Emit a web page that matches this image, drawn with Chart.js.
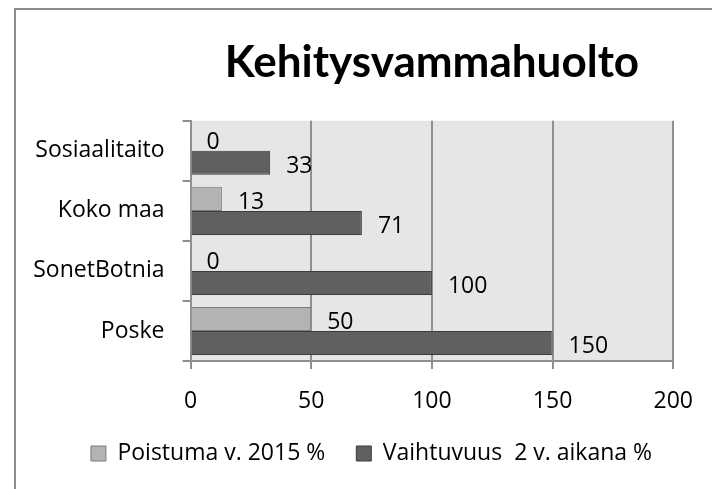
<!DOCTYPE html>
<html>
<head>
<meta charset="utf-8">
<script src="https://cdn.jsdelivr.net/npm/chart.js@4.4.1/dist/chart.umd.min.js"></script>
<style>
  html, body { margin: 0; padding: 0; background: #fff; }
  #wrap { width: 712px; height: 489px; }
</style>
</head>
<body>
<div id="wrap"><canvas id="turnoverChart" width="712" height="489"></canvas></div>
<script>
const categories = ['Sosiaalitaito', 'Koko maa', 'SonetBotnia', 'Poske'];
const seriesNames = ['Poistuma v. 2015 %', 'Vaihtuvuus  2 v. aikana %'];
const poistumaValues = [0, 13, 0, 50];
const vaihtuvuusValues = [33, 71, 100, 150];
const xTickValues = [0, 50, 100, 150, 200];

const labelFont = { family: 'Open Sans', size: 23 };
const gridGray = '#909090';

// Excel-like frame and grey plot background
const frameAndBackground = {
  id: 'frameAndBackground',
  beforeDraw(chart) {
    const { ctx, chartArea } = chart;
    ctx.save();
    ctx.fillStyle = '#e6e6e6';
    ctx.fillRect(chartArea.left, chartArea.top, chartArea.right - chartArea.left, chartArea.bottom - chartArea.top);
    ctx.strokeStyle = '#8c8c8c';
    ctx.lineWidth = 2;
    ctx.beginPath();
    ctx.moveTo(15, 489);
    ctx.lineTo(15, 9);
    ctx.lineTo(712, 9);
    ctx.stroke();
    ctx.restore();
  }
};

// value labels just past the bar ends
const valueLabels = {
  id: 'valueLabels',
  afterDatasetsDraw(chart) {
    const ctx = chart.ctx;
    ctx.save();
    ctx.font = labelFont.size + 'px "' + labelFont.family + '"';
    ctx.fillStyle = '#000';
    ctx.textAlign = 'left';
    ctx.textBaseline = 'alphabetic';
    chart.data.datasets.forEach((ds, i) => {
      chart.getDatasetMeta(i).data.forEach((bar, j) => {
        ctx.fillText(String(ds.data[j]), bar.x + 16, bar.y + 10);
      });
    });
    ctx.restore();
  }
};

new Chart(document.getElementById('turnoverChart'), {
  type: 'bar',
  data: {
    labels: categories,
    datasets: [{
      label: seriesNames[0],
      data: poistumaValues,
      backgroundColor: '#b3b3b3',
      borderColor: '#7a7a7a',
      borderWidth: 1,
      categoryPercentage: 0.8,
      barPercentage: 1
    }, {
      label: seriesNames[1],
      data: vaihtuvuusValues,
      backgroundColor: '#606060',
      borderColor: '#3c3c3c',
      borderWidth: 1,
      categoryPercentage: 0.8,
      barPercentage: 1
    }]
  },
  options: {
    indexAxis: 'y',
    responsive: false,
    devicePixelRatio: 1,
    animation: false,
    layout: { padding: { left: 31, right: 0, top: 0, bottom: 14 } },
    scales: {
      x: {
        min: xTickValues[0],
        max: xTickValues[xTickValues.length - 1],
        afterBuildTicks: s => { s.ticks = xTickValues.map(v => ({ value: v })); },
        afterFit: s => { s.height = 50; },
        ticks: { color: '#000', font: labelFont, padding: 19 },
        grid: { color: gridGray, lineWidth: 2, tickLength: 8 },
        border: { color: gridGray, width: 2 }
      },
      y: {
        afterFit: s => { s.width = 159.5; },
        ticks: { color: '#000', font: labelFont, padding: 18 },
        grid: { color: gridGray, lineWidth: 2, tickLength: 8, drawOnChartArea: false },
        border: { color: gridGray, width: 2 }
      },
      yRight: {
        type: 'linear',
        position: 'right',
        afterFit: s => { s.width = 35; },
        ticks: { display: false },
        grid: { display: false },
        border: { display: false }
      }
    },
    plugins: {
      title: {
        display: true,
        text: 'Kehitysvammahuolto',
        fullSize: false,
        color: '#000',
        font: { family: 'Lato', size: 44, weight: 'bold', lineHeight: 1.2 },
        padding: { top: 36, bottom: 32 }
      },
      legend: {
        position: 'bottom',
        align: 'center',
        labels: {
          color: '#000',
          font: labelFont,
          boxWidth: 15,
          boxHeight: 15,
          padding: 31
        }
      },
      tooltip: { enabled: false }
    }
  },
  plugins: [frameAndBackground, valueLabels]
});
</script>
</body>
</html>
